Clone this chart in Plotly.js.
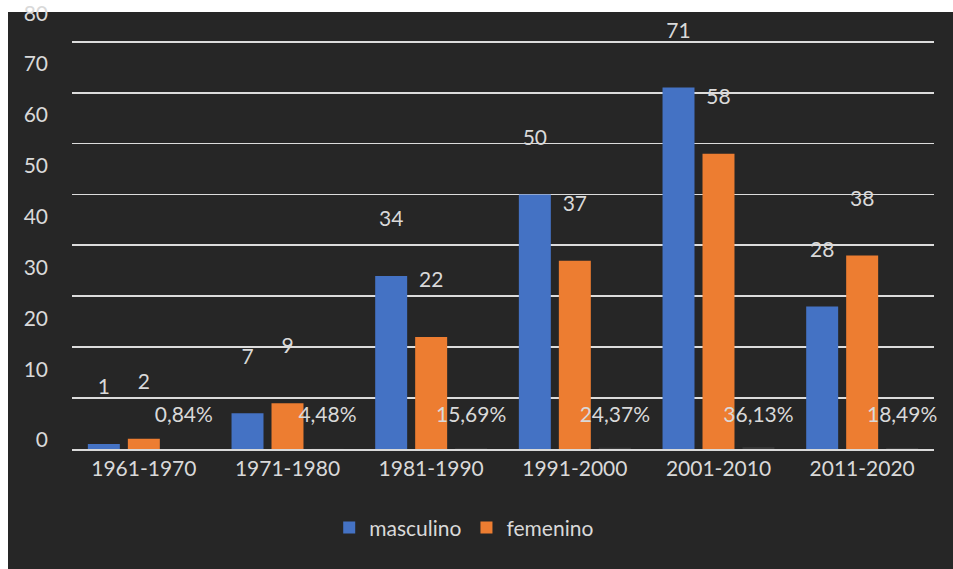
<!DOCTYPE html>
<html><head><meta charset="utf-8">
<script src="https://cdn.plot.ly/plotly-3.0.1.min.js"></script>
<style>
html,body{margin:0;padding:0;background:#ffffff;width:953px;height:569px;overflow:hidden;}
#bg{position:absolute;left:8px;top:12px;width:945px;height:557px;background:#262626;}
#chart{position:absolute;left:0;top:0;width:953px;height:569px;}
</style></head><body>
<div id="bg"></div><div id="chart"></div>
<script>
// ---- data ----
const categories = ['1961-1970','1971-1980','1981-1990','1991-2000','2001-2010','2011-2020'];
const masculino = [1, 7, 34, 50, 71, 28];
const femenino = [2, 9, 22, 37, 58, 38];
const porcentaje = [0.84, 4.48, 15.69, 24.37, 36.13, 18.49];
const yTickValues = [0, 10, 20, 30, 40, 50, 60, 70, 80];

// ---- style constants ----
const FONT = 'Lato, "Open Sans", sans-serif';
const TXT = '#d9d9d9';
const FS = 21;
const BARGAP = 0.165, GROUPGAP = 0.2, NSER = 3;
const SLOT = (1 - BARGAP) / NSER;
const LABEL_LIFT = 10.8;      // data labels sit above bar tops
const PCT_LABEL_Y = 6.4;      // percentage labels height
const TICK_LIFT = 5.6, ZERO_LIFT = 1.8; // y tick labels drawn above their gridlines
const YMAX = 88;

const idx = categories.map((c, i) => i);

const traces = [
  {type:'bar', name:'masculino', x: idx, y: masculino, marker:{color:'#4472c4'}, hoverinfo:'skip'},
  {type:'bar', name:'femenino', x: idx, y: femenino, marker:{color:'#ed7d31'}, hoverinfo:'skip'},
  {type:'bar', name:'porcentaje', x: idx, y: porcentaje.map(p => p / 100), marker:{color:'#3a3a3a'}, showlegend:false, hoverinfo:'skip'},
  {type:'scatter', mode:'text', x: idx.map(i => i - SLOT), y: masculino.map(v => v + LABEL_LIFT),
    text: masculino.map(String), textposition:'middle center', textfont:{family:FONT, size:FS, color:TXT},
    showlegend:false, hoverinfo:'skip', cliponaxis:false},
  {type:'scatter', mode:'text', x: idx, y: femenino.map(v => v + LABEL_LIFT),
    text: femenino.map(String), textposition:'middle center', textfont:{family:FONT, size:FS, color:TXT},
    showlegend:false, hoverinfo:'skip', cliponaxis:false},
  {type:'scatter', mode:'text', x: idx.map(i => i + SLOT), y: porcentaje.map(() => PCT_LABEL_Y), yaxis:'y2',
    text: porcentaje.map(p => p.toFixed(2).replace('.', ',') + '%'), textposition:'middle center',
    textfont:{family:FONT, size:FS, color:TXT}, showlegend:false, hoverinfo:'skip', cliponaxis:false}
];

const layout = {
  width: 953, height: 569,
  paper_bgcolor:'rgba(0,0,0,0)', plot_bgcolor:'rgba(0,0,0,0)',
  margin:{l:72, r:19, t:1, b:120},
  barmode:'group', bargap: BARGAP, bargroupgap: GROUPGAP,
  font:{family:FONT, size:FS, color:TXT},
  showlegend:true,
  legend:{orientation:'h', x:0.455, xanchor:'center', y:-0.13, yanchor:'top',
    font:{family:FONT, size:FS, color:TXT}, bgcolor:'rgba(0,0,0,0)', traceorder:'normal'},
  xaxis:{range:[-0.5, categories.length - 0.5], tickvals: idx, ticktext: categories,
    showgrid:false, zeroline:false, showline:true, linecolor:'#d9d9d9', linewidth:2,
    ticks:'', tickfont:{family:FONT, size:FS, color:TXT}, fixedrange:true},
  yaxis:{range:[0, YMAX], tickvals: yTickValues, showticklabels:false, showgrid:true,
    gridcolor:'#dcdcdc', gridwidth:1.8, zeroline:false, showline:false, ticks:'', fixedrange:true},
  yaxis2:{overlaying:'y', side:'left', range:[0, YMAX],
    tickvals: yTickValues.map(v => v === 0 ? v + ZERO_LIFT : v + TICK_LIFT),
    ticktext: yTickValues.map(String), showgrid:false, zeroline:false, showline:false, ticks:'',
    ticklabelstandoff: 23, ticklabeloverflow:'allow', tickfont:{family:FONT, size:FS, color:TXT}, fixedrange:true}
};

Plotly.newPlot('chart', traces, layout, {displayModeBar:false, staticPlot:true});
</script>
</body></html>
